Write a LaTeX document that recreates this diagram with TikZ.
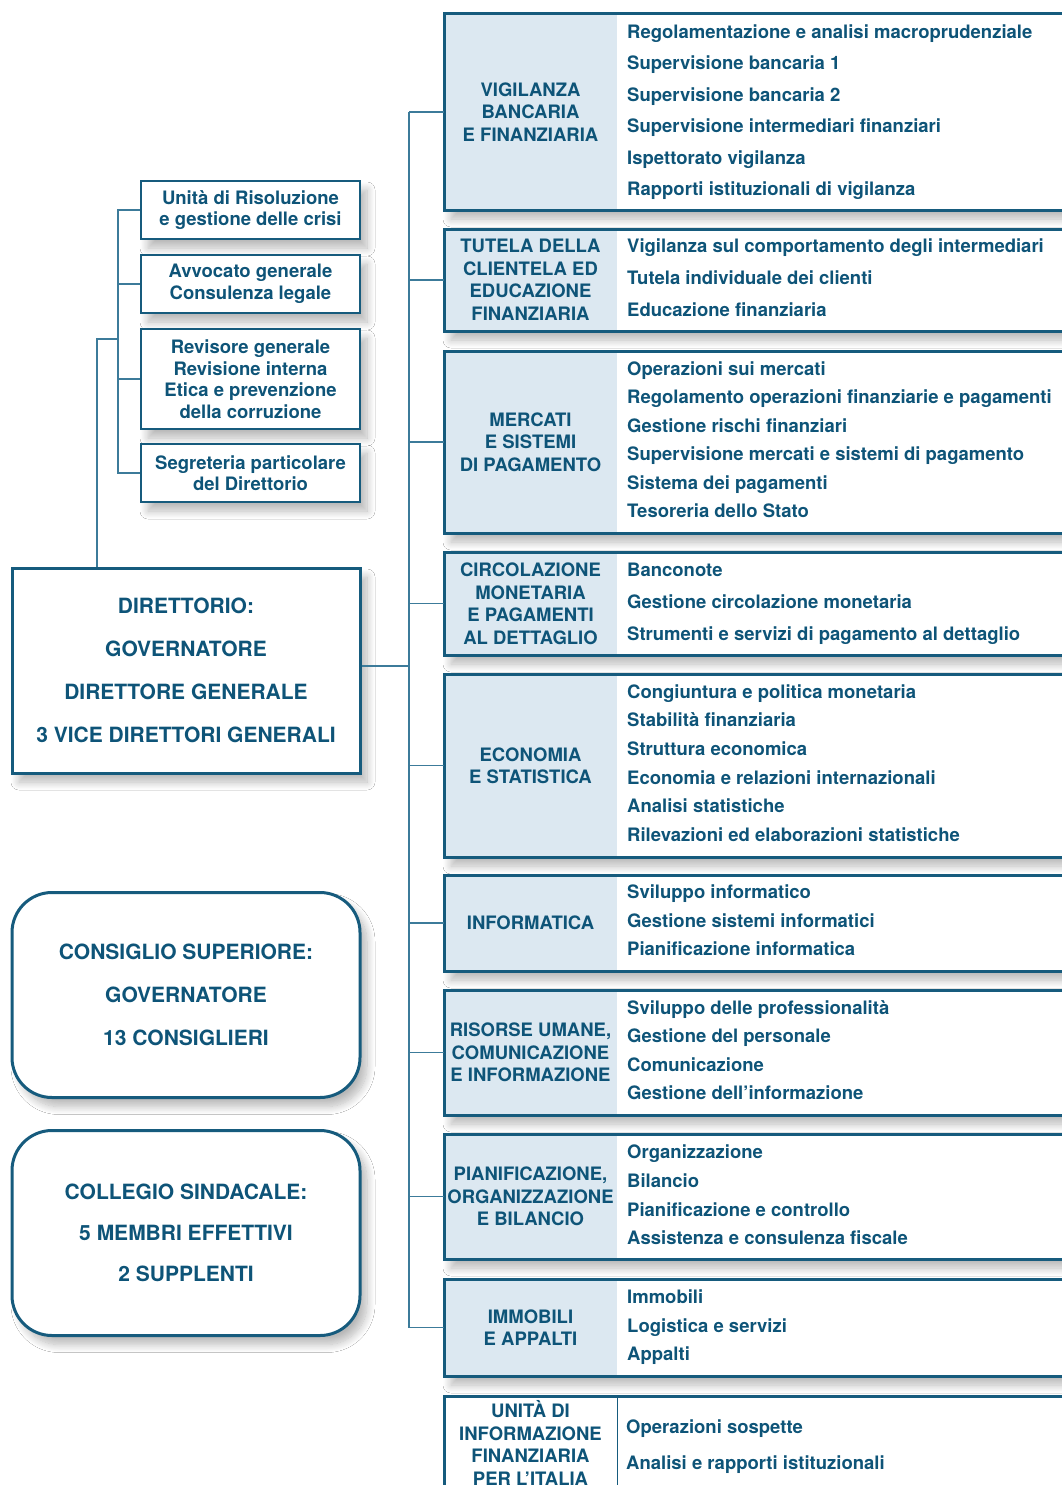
\documentclass[tikz,border=0pt]{standalone}
\usepackage{fontspec}
\setmainfont{TeX Gyre Heros}
\usetikzlibrary{shadows.blur}
\definecolor{bi}{HTML}{0E5478}
\definecolor{bl}{HTML}{165B7D}
\definecolor{lf}{HTML}{DCE8F1}
\definecolor{cn}{HTML}{3C7B9A}
\tikzset{
 base/.style={font=\bfseries\fontsize{18.5}{22.5}\selectfont, text=bi},
 lab/.style={base, align=center, inner sep=0pt, minimum width=173pt},
 item/.style={base, anchor=base west, inner sep=0pt},
 boxline/.style={draw=bl, line width=3pt},
 conn/.style={draw=cn, line width=1.6pt},
 shad/.style={blur shadow={shadow xshift=7pt, shadow yshift=-9pt, shadow blur radius=8pt, shadow blur steps=12, shadow opacity=28}},
 staff/.style={base, font=\bfseries\fontsize{18.5}{21.5}\selectfont, draw=bl, line width=2.5pt, fill=white, align=center, minimum width=219pt, inner sep=0pt, shad},
 big/.style={font=\bfseries\fontsize{21}{43}\selectfont, text=bi, draw=bl, line width=3pt, fill=white, align=center, minimum width=348pt, minimum height=205pt, inner sep=0pt, shad},
}
\newcommand\dept[5]{%
  \path[shad, fill=white] (444,#2) rectangle (1100,#3);
  \node[lab, fill=#5, minimum height={#3-#2}] (#1) at (530.5,{(#2+#3)/2}) {#4};
  \draw[boxline] (1100,#2) -- (444,#2) -- (444,#3) -- (1100,#3);
}
\newcommand\items[3]{\foreach \yy/\tx [count=\i] in {#3} \node[item] (#1-\i) at (#2,\yy+6.5) {\tx};}
\begin{document}
\begin{tikzpicture}[x=1pt,y=-1pt]
\clip (0,0) rectangle (1062,1485);
\fill[white] (0,0) rectangle (1062,1485);

% departments
\dept{vig}{14}{210}{VIGILANZA\\BANCARIA\\E FINANZIARIA}{lf}
\items{vig}{627}{32/Regolamentazione e analisi macroprudenziale,63/Supervisione bancaria 1,95/Supervisione bancaria 2,126/Supervisione intermediari finanziari,158/Ispettorato vigilanza,189/Rapporti istituzionali di vigilanza}
\dept{tut}{229}{331}{TUTELA DELLA\\CLIENTELA ED\\EDUCAZIONE\\FINANZIARIA}{lf}
\items{tut}{627}{246/Vigilanza sul comportamento degli intermediari,278/Tutela individuale dei clienti,310/Educazione finanziaria}
\dept{mer}{351}{533}{MERCATI\\E SISTEMI\\DI PAGAMENTO}{lf}
\items{mer}{627}{369/Operazioni sui mercati,397/Regolamento operazioni finanziarie e pagamenti,426/Gestione rischi finanziari,454/Supervisione mercati e sistemi di pagamento,483/Sistema dei pagamenti,511/Tesoreria dello Stato}
\dept{cir}{552}{655}{CIRCOLAZIONE\\MONETARIA\\E PAGAMENTI\\AL DETTAGLIO}{lf}
\items{cir}{627}{570/Banconote,602/Gestione circolazione monetaria,634/Strumenti e servizi di pagamento al dettaglio}
\dept{eco}{674}{857}{ECONOMIA\\E STATISTICA}{lf}
\items{eco}{627}{692/Congiuntura e politica monetaria,720/Stabilità finanziaria,749/Struttura economica,778/Economia e relazioni internazionali,806/Analisi statistiche,835/Rilevazioni ed elaborazioni statistiche}
\dept{inf}{875}{971}{INFORMATICA}{lf}
\items{inf}{627}{892/Sviluppo informatico,921/Gestione sistemi informatici,949/Pianificazione informatica}
\dept{ris}{990}{1115}{RISORSE UMANE,\\COMUNICAZIONE\\E INFORMAZIONE}{lf}
\items{ris}{627}{1008/Sviluppo delle professionalità,1036/Gestione del personale,1065/Comunicazione,1093/Gestione dell’informazione}
\dept{pia}{1134}{1259}{PIANIFICAZIONE,\\ORGANIZZAZIONE\\E BILANCIO}{lf}
\items{pia}{627}{1152/Organizzazione,1181/Bilancio,1210/Pianificazione e controllo,1238/Assistenza e consulenza fiscale}
\dept{imm}{1279}{1376}{IMMOBILI\\E APPALTI}{lf}
\items{imm}{627}{1297/Immobili,1326/Logistica e servizi,1354/Appalti}
\dept{uif}{1396}{1490}{UNITÀ DI\\INFORMAZIONE\\FINANZIARIA\\PER L’ITALIA}{white}
\draw[draw=bl, line width=1pt] (uif.north east) -- (uif.south east);
\items{uif}{626}{1427/Operazioni sospette,1463/Analisi e rapporti istituzionali}

% staff boxes
\node[staff, minimum height=58pt] (uni) at (250.5,210) {Unità di Risoluzione\\e gestione delle crisi};
\node[staff, minimum height=58pt] (avv) at (250.5,284) {Avvocato generale\\Consulenza legale};
\node[staff, minimum height=100pt] (rev) at (250.5,379) {Revisore generale\\Revisione interna\\Etica e prevenzione\\della corruzione};
\node[staff, minimum height=58pt] (seg) at (250.5,473) {Segreteria particolare\\del Direttorio};

% governing bodies
\node[big] (dir) at (186,670.5) {DIRETTORIO:\\GOVERNATORE\\DIRETTORE GENERALE\\3 VICE DIRETTORI GENERALI};
\node[big, rounded corners=40pt] (con) at (186,995) {CONSIGLIO SUPERIORE:\\GOVERNATORE\\13 CONSIGLIERI};
\node[big, rounded corners=40pt, font=\bfseries\fontsize{21}{41}\selectfont] (col) at (186,1233) {COLLEGIO SINDACALE:\\5 MEMBRI EFFETTIVI\\2 SUPPLENTI};

% connectors
\coordinate (tr) at (409,0);
\coordinate (sb) at (118,339);
\coordinate (sk) at (97,339);
\draw[conn] (vig.west -| tr) -- (imm.west -| tr);
\foreach \n in {vig,tut,mer,cir,eco,inf,ris,pia,imm} \draw[conn] (\n.west -| tr) -- (\n.west);
\draw[conn] ([yshift=4.5pt]dir.east) -- ([yshift=4.5pt]dir.east -| tr);
\draw[conn] (uni.west) -- (uni.west -| sb) -- (seg.west -| sb) -- (seg.west);
\draw[conn] (avv.west) -- (avv.west -| sb);
\draw[conn] (rev.west) -- (rev.west -| sb);
\draw[conn] (sb) -- (sk) -- (sk |- dir.north);
\end{tikzpicture}
\end{document}
